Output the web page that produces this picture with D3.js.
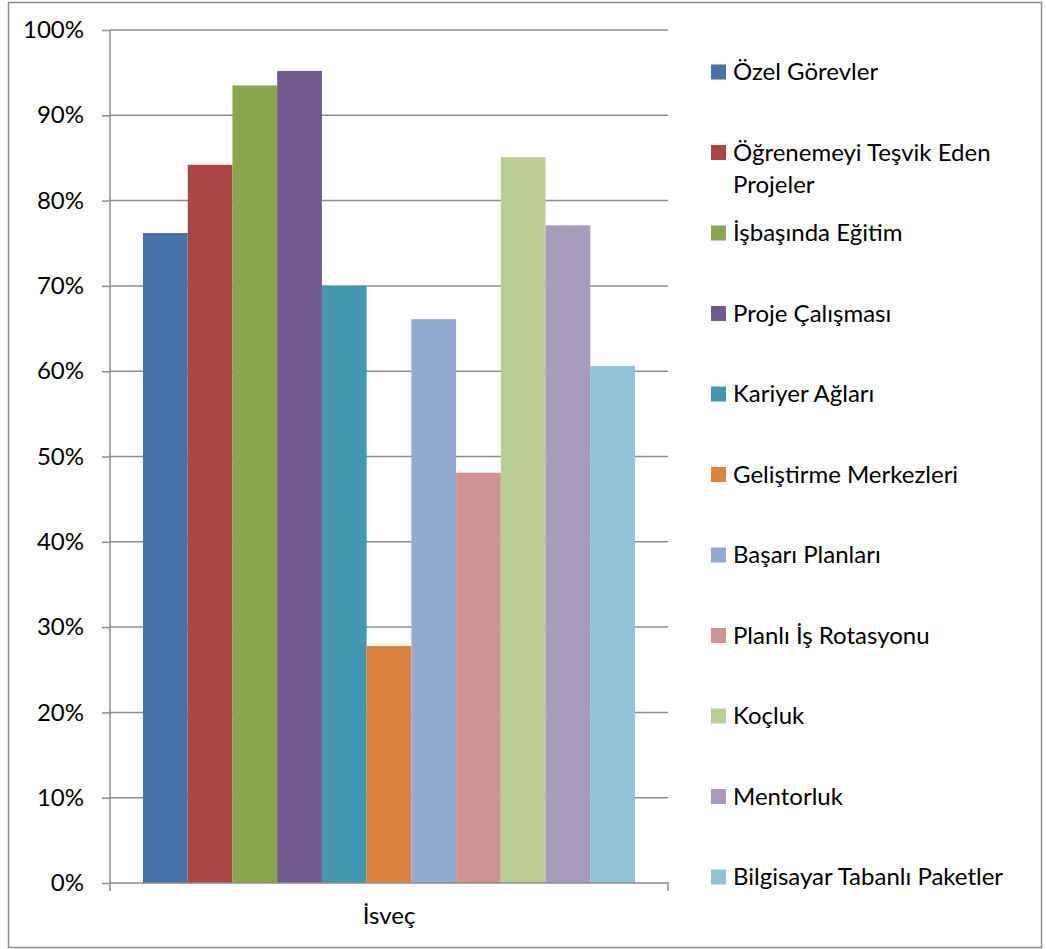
<!DOCTYPE html>
<html>
<head>
<meta charset="utf-8">
<script src="https://cdn.jsdelivr.net/npm/d3@7"></script>
<style>
  body { margin: 0; background: #fff; }
  text { font-family: Lato, "Noto Sans", sans-serif; fill: #000; }
</style>
</head>
<body>
<script>
// Chart data
var category = "İsveç";
var seriesNames = [
  "Özel Görevler",
  "Öğrenemeyi Teşvik Eden Projeler",
  "İşbaşında Eğitim",
  "Proje Çalışması",
  "Kariyer Ağları",
  "Geliştirme Merkezleri",
  "Başarı Planları",
  "Planlı İş Rotasyonu",
  "Koçluk",
  "Mentorluk",
  "Bilgisayar Tabanlı Paketler"
];
// legend text broken over lines where the original wraps
var legendLines = [
  ["Özel Görevler"],
  ["Öğrenemeyi Teşvik Eden", "Projeler"],
  ["İşbaşında Eğitim"],
  ["Proje Çalışması"],
  ["Kariyer Ağları"],
  ["Geliştirme Merkezleri"],
  ["Başarı Planları"],
  ["Planlı İş Rotasyonu"],
  ["Koçluk"],
  ["Mentorluk"],
  ["Bilgisayar Tabanlı Paketler"]
];
var values = [0.762, 0.842, 0.935, 0.952, 0.700, 0.278, 0.661, 0.481, 0.851, 0.771, 0.606];
var colors = ["#4572A7", "#AA4643", "#89A54E", "#71588F", "#4198AF", "#DB843D",
              "#93A9CF", "#D19392", "#B9CD96", "#A99BBD", "#92C3D5"];
var yTicks = [0, 0.1, 0.2, 0.3, 0.4, 0.5, 0.6, 0.7, 0.8, 0.9, 1];

var width = 1046,
    height = 949,
    fontSize = 24;

var svg = d3.select("body")
    .append("svg")
    .attr("width", width)
    .attr("height", height);

// outer frame
svg.append("rect")
    .attr("x", 8.5)
    .attr("y", 2.5)
    .attr("width", 1033)
    .attr("height", 945)
    .attr("fill", "#fff")
    .attr("stroke", "#8c8c8c")
    .attr("stroke-width", 1.5);

var plot = { left: 110, right: 668, top: 30, bottom: 883 };

var y = d3.scaleLinear()
    .domain([0, 1])
    .range([plot.bottom, plot.top]);

// one category, bars of the series inside it
var x0 = d3.scaleBand()
    .domain([category])
    .range([plot.left, plot.right]);

var x1 = d3.scaleBand()
    .domain(seriesNames)
    .range([plot.left + 33, plot.right - 33]);

// gridlines
svg.append("g")
    .selectAll("line")
    .data(yTicks.slice(1))
    .enter().append("line")
        .attr("x1", plot.left)
        .attr("x2", plot.right)
        .attr("y1", function(d) { return y(d); })
        .attr("y2", function(d) { return y(d); })
        .attr("stroke", "#8c8c8c")
        .attr("stroke-width", 1.5);

// bars
svg.append("g")
    .selectAll("rect")
    .data(values)
    .enter().append("rect")
        .attr("x", function(d, i) { return x1(seriesNames[i]); })
        .attr("width", x1.bandwidth())
        .attr("y", function(d) { return y(d); })
        .attr("height", function(d) { return y(0) - y(d); })
        .attr("fill", function(d, i) { return colors[i]; });

// y axis
var yAxis = svg.append("g")
    .attr("transform", "translate(" + plot.left + ",0)")
    .call(d3.axisLeft(y)
        .tickValues(yTicks)
        .tickSize(8)
        .tickPadding(18)
        .tickFormat(d3.format(".0%")));
yAxis.selectAll("line, path").attr("stroke", "#8c8c8c").attr("stroke-width", 1.5);
yAxis.select(".domain").attr("d", "M0," + plot.top + "V" + plot.bottom);
yAxis.selectAll("text")
    .attr("font-size", fontSize)
    .attr("font-family", "Lato, 'Noto Sans', sans-serif")
    .attr("fill", "#000");

// x axis
var xAxis = svg.append("g")
    .attr("transform", "translate(0," + plot.bottom + ")")
    .call(d3.axisBottom(x0).tickSize(0).tickPadding(24));
xAxis.select(".domain")
    .attr("d", "M" + plot.left + ",8V0H" + plot.right + "V8")
    .attr("stroke", "#8c8c8c")
    .attr("stroke-width", 1.5)
    .attr("fill", "none");
xAxis.selectAll("text")
    .attr("font-size", fontSize)
    .attr("font-family", "Lato, 'Noto Sans', sans-serif")
    .attr("fill", "#000");

// legend
var legend = svg.append("g")
    .attr("class", "legend");

var rows = legend.selectAll("g")
    .data(legendLines)
    .enter().append("g")
        .attr("transform", function(d, i) { return "translate(711," + (72 + i * 80.5) + ")"; });

rows.append("rect")
    .attr("x", 0)
    .attr("y", -7.5)
    .attr("width", 15)
    .attr("height", 15)
    .attr("fill", function(d, i) { return colors[i]; });

rows.append("text")
    .attr("x", 22)
    .attr("font-size", fontSize)
    .selectAll("tspan")
    .data(function(d) { return d; })
    .enter().append("tspan")
        .attr("x", 22)
        .attr("y", function(d, j) { return j * 32; })
        .attr("dy", "0.35em")
        .text(function(d) { return d; });
</script>
</body>
</html>
